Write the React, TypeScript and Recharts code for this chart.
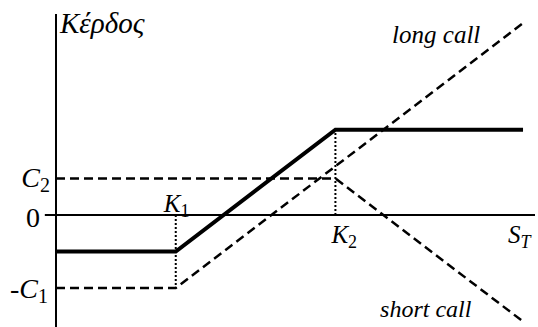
import { LineChart, Line, XAxis, YAxis, ReferenceLine, ReferenceDot } from 'recharts';

// payoff diagram values (price S_T on x, profit on y)
const spot = [25, 40, 60, 83.5];
const longCall = [-12, -12, 8, 31.5];
const shortCall = [6, 6, 6, -17.5];
const spread = [-6, -6, 14, 14];

const strikes = [40, 60];
const spreadTop = 14;
const premiumLong = -12;

const yTicks = [-12, 0, 6];
const yTickMain = ['-C', '0', 'C'];
const yTickSub = ['1', '', '2'];

const FONT = '"Liberation Serif", "Times New Roman", serif';

const toRows = (vals: number[]) => spot.map((s, i) => ({ s, v: vals[i] }));

function MathText({ x, y, main, sub, size, subSize, anchor = 'start', subItalic = false }: any) {
  return (
    <text x={x} y={y} textAnchor={anchor} style={{ fontFamily: FONT, fontSize: size }} fill="#000">
      <tspan style={{ fontStyle: main === '0' ? 'normal' : 'italic' }}>{main}</tspan>
      {sub ? (
        <tspan dy={5} style={{ fontSize: subSize, fontStyle: subItalic ? 'italic' : 'normal' }}>
          {sub}
        </tspan>
      ) : null}
    </text>
  );
}

const YTick = (props: any) => {
  const { x, y, payload } = props;
  const i = yTicks.indexOf(payload.value);
  if (i < 0) return null;
  const shift = payload.value === 0 ? -8 : payload.value > 0 ? 2 : 0;
  const dy = payload.value === 0 ? 12 : payload.value > 0 ? 9 : 10;
  return (
    <MathText x={x + shift} y={y + dy} main={yTickMain[i]} sub={yTickSub[i]} size={28} subSize={20} anchor="end" />
  );
};

const labelAt = (main: string, sub: string, dx: number, dy: number, size: number, subItalic = false) =>
  ({ viewBox }: any) => (
    <MathText x={viewBox.x + dx} y={viewBox.y + dy} main={main} sub={sub} size={size} subSize={18} subItalic={subItalic} />
  );

const plainAt = (txt: string, size: number, dx = 0, dy = 0) => ({ viewBox }: any) => (
  <text x={viewBox.x + dx} y={viewBox.y + dy} style={{ fontFamily: FONT, fontStyle: 'italic', fontSize: size }} fill="#000">
    {txt}
  </text>
);

export default function App() {
  return (
    <div style={{ position: 'absolute', left: 0, top: 0, background: '#fff' }}>
      <LineChart width={538} height={327} margin={{ top: 14, right: 3, bottom: 0, left: 0 }}>
        <XAxis type="number" dataKey="s" domain={[25, 85]} allowDataOverflow hide />
        <YAxis
          type="number"
          domain={[-18.4, 33]}
          allowDataOverflow
          ticks={yTicks}
          width={56}
          axisLine={false}
          tickLine={false}
          tick={(p: any) => <YTick {...p} />}
        />
        {/* axes */}
        <ReferenceLine x={25} stroke="#000" strokeWidth={2} />
        <ReferenceLine
          segment={[{ x: 23.6, y: 0 }, { x: 85, y: 0 }]}
          stroke="#000"
          strokeWidth={2}
          ifOverflow="visible"
        />
        {/* strike guides */}
        <ReferenceLine
          segment={[{ x: strikes[0], y: 0 }, { x: strikes[0], y: premiumLong }]}
          stroke="#000"
          strokeWidth={2}
          strokeDasharray="2 2"
        />
        <ReferenceLine
          segment={[{ x: strikes[1], y: 0 }, { x: strikes[1], y: spreadTop }]}
          stroke="#000"
          strokeWidth={2}
          strokeDasharray="2 2"
        />
        <Line data={toRows(longCall)} dataKey="v" type="linear" stroke="#000" strokeWidth={2.5}
          strokeDasharray="9 5" dot={false} isAnimationActive={false} />
        <Line data={toRows(shortCall)} dataKey="v" type="linear" stroke="#000" strokeWidth={2.5}
          strokeDasharray="9 5" dot={false} isAnimationActive={false} />
        <Line data={toRows(spread)} dataKey="v" type="linear" stroke="#000" strokeWidth={4}
          dot={false} isAnimationActive={false} />
        {/* labels */}
        <ReferenceDot x={25} y={33} r={0} fill="none" stroke="none" ifOverflow="visible"
          label={{ content: plainAt('Κέρδος', 29, 4, 19) }} />
        <ReferenceDot x={strikes[0]} y={0} r={0} fill="none" stroke="none"
          label={{ content: labelAt('K', '1', -12, -3, 25) }} />
        <ReferenceDot x={strikes[1]} y={0} r={0} fill="none" stroke="none"
          label={{ content: labelAt('K', '2', -4, 28, 25) }} />
        <ReferenceDot x={82} y={0} r={0} fill="none" stroke="none"
          label={{ content: labelAt('S', 'T', -3, 28, 25, true) }} />
        <ReferenceDot x={67.1} y={28.2} r={0} fill="none" stroke="none"
          label={{ content: plainAt('long call', 25) }} />
        <ReferenceDot x={65.6} y={-16.7} r={0} fill="none" stroke="none"
          label={{ content: plainAt('short call', 24) }} />
      </LineChart>
    </div>
  );
}
